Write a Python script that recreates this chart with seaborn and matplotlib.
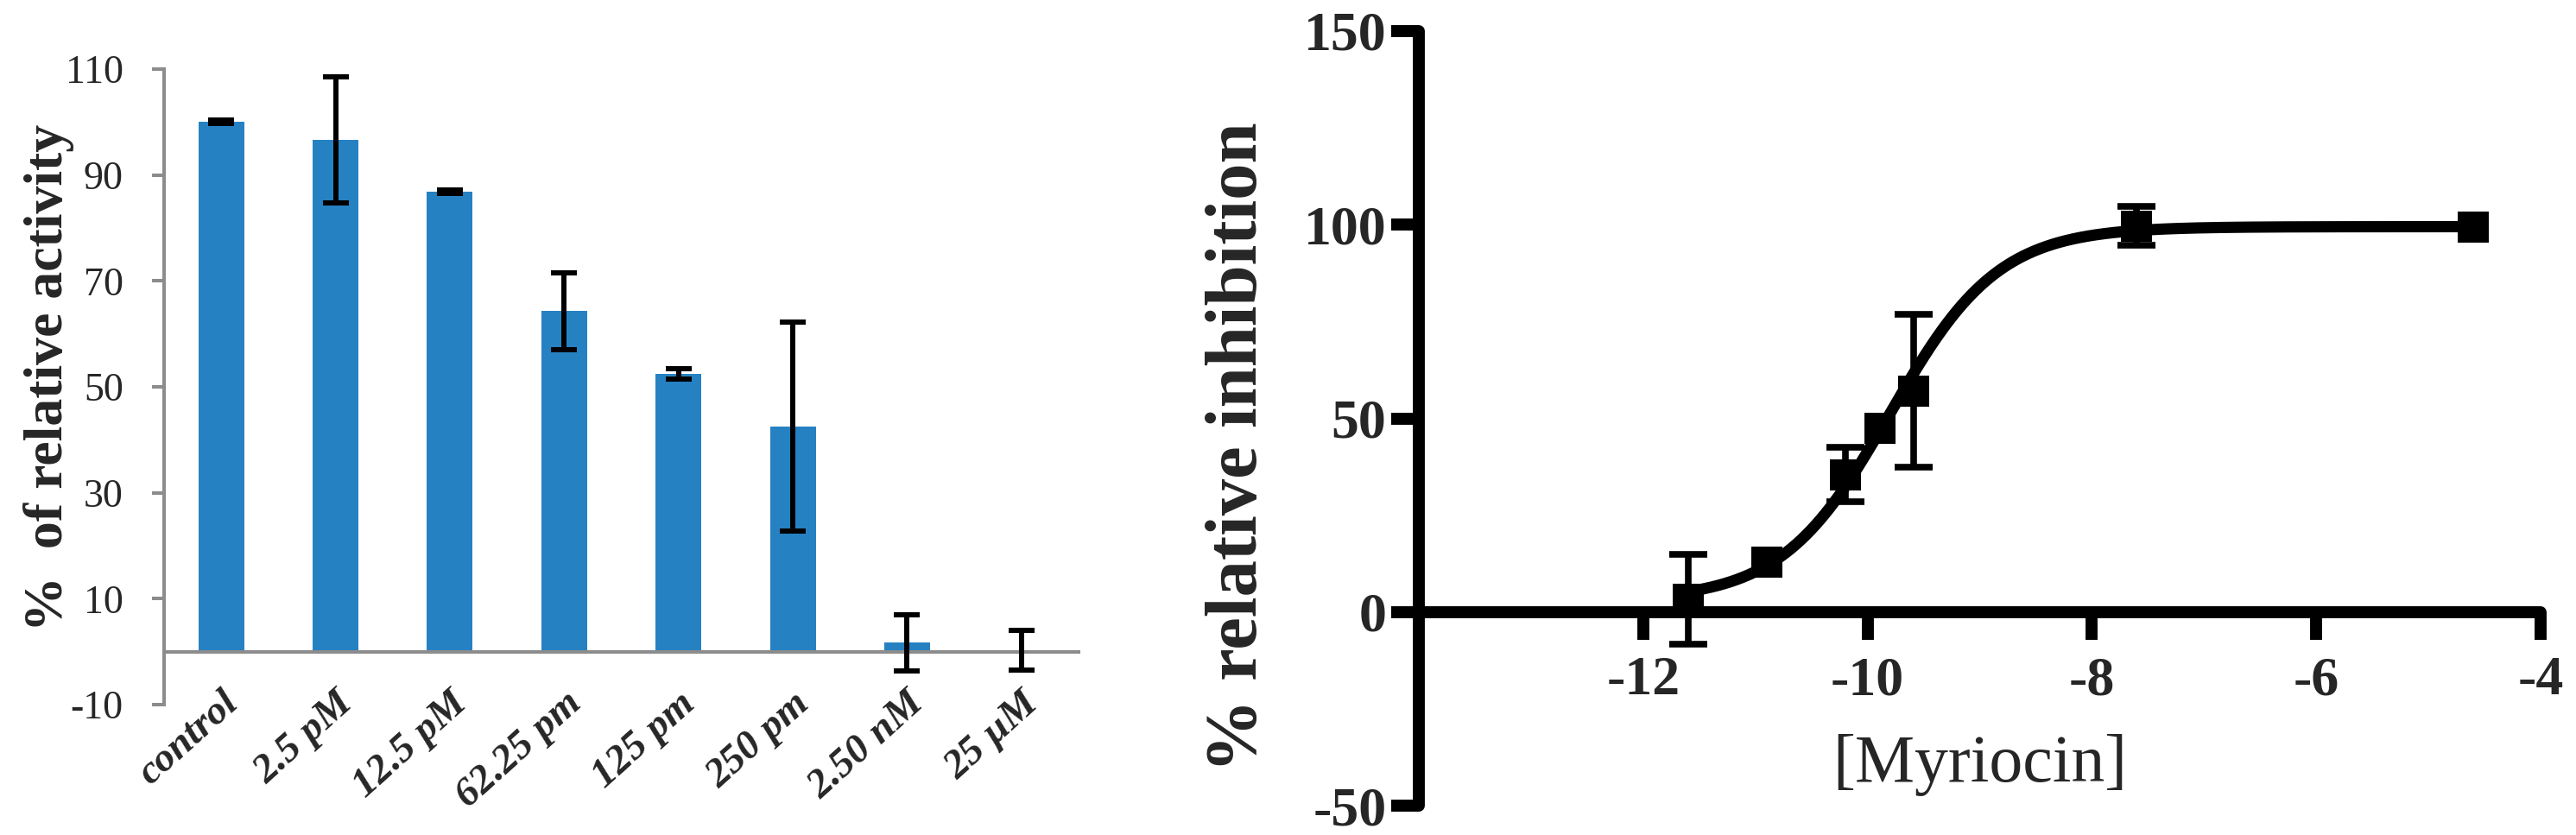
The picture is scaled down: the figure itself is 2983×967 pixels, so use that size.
import numpy as np
import pandas as pd
import matplotlib
matplotlib.use("Agg")
import matplotlib.pyplot as plt
import seaborn as sns

# ---------------- data ----------------
# Left panel: % of relative activity
categories = ["control", "2.5 pM", "12.5 pM", "62.25 pm", "125 pm", "250 pm", "2.50 nM", "25 \u00b5M"]
activity = [100.0, 96.7, 86.9, 64.3, 52.5, 42.5, 1.7, 0.35]
activity_err = [0.3, 11.9, 0.3, 7.3, 1.0, 19.8, 5.3, 3.75]
left_yticks = [-10, 10, 30, 50, 70, 90, 110]

# Right panel: dose response
log_conc = [-11.6, -10.9, -10.2, -9.89, -9.59, -7.6, -4.6]
inhibition = [3.2, 12.9, 35.5, 47.4, 57.1, 99.7, 99.4]
inhibition_err = [11.6, 0.0, 7.1, 0.0, 19.8, 5.0, 0.0]
# fitted 4-parameter logistic
fit_bottom = 3.0
fit_top = 99.5
fit_logic50 = -9.8
fit_hill = 0.9
right_xticks = [-12, -10, -8, -6, -4]
right_yticks = [-50, 0, 50, 100, 150]

# ---------------- style ----------------
sns.set_theme(style="white")
plt.rcParams["font.family"] = ["Liberation Serif", "DejaVu Serif"]

W, H = 2983, 967
fig = plt.figure(figsize=(W / 100, H / 100), dpi=100)
fig.patch.set_facecolor("white")

bar_color = "#2681C3"
gray = "#8C8C8C"

# ---------------- left panel ----------------
axL = fig.add_axes([190 / W, 1 - 816 / H, (1249 - 190) / W, (816 - 80) / H])
df_left = pd.DataFrame({"category": categories, "activity": activity})
sns.barplot(data=df_left, x="category", y="activity", color=bar_color,
            saturation=1, width=0.4, errorbar=None, ax=axL, linewidth=0)
axL.errorbar(np.arange(len(categories)), activity, yerr=activity_err,
             fmt="none", ecolor="black", elinewidth=4.3, capsize=11,
             capthick=4.3, zorder=4)
for s in ["top", "right"]:
    axL.spines[s].set_visible(False)
axL.spines["bottom"].set_position(("data", 0))
for s in ["bottom", "left"]:
    axL.spines[s].set_color(gray)
    axL.spines[s].set_linewidth(2.9)
axL.set_xlim(-0.5, len(categories) - 0.5)
axL.set_ylim(-10, 110)
axL.set_yticks(left_yticks)
axL.set_yticklabels([str(v) for v in left_yticks], fontsize=33)
axL.set_xticks(np.arange(len(categories)))
axL.set_xticklabels(categories, fontsize=34, fontweight="bold", fontstyle="italic",
                    rotation=42, ha="right", va="top", rotation_mode="anchor")
axL.set_xticks(np.arange(len(categories) + 1) - 0.5, minor=True)
axL.tick_params(axis="x", which="major", length=0, pad=28)
axL.tick_params(axis="x", which="minor", direction="out", length=8, width=2.9, color=gray)
axL.tick_params(axis="y", which="major", direction="out", length=10, width=2.9,
                color=gray, pad=24, left=True)
axL.set_xlabel("")
axL.set_ylabel("%  of relative activity", fontsize=46, fontweight="bold")
axL.yaxis.set_label_coords(-0.098, 0.515)
axL.grid(False)

# ---------------- right panel ----------------
axR = fig.add_axes([1643 / W, 1 - 933 / H, (2942 - 1643) / W, (933 - 36) / H])
xfit = np.linspace(log_conc[0], log_conc[-1], 500)
yfit = fit_bottom + (fit_top - fit_bottom) / (1 + 10 ** ((fit_logic50 - xfit) * fit_hill))
sns.lineplot(x=xfit, y=yfit, ax=axR, color="black", linewidth=9.4, zorder=3)

err_idx = [i for i, e in enumerate(inhibition_err) if e > 0]
axR.errorbar([log_conc[i] for i in err_idx], [inhibition[i] for i in err_idx],
             yerr=[inhibition_err[i] for i in err_idx], fmt="none", ecolor="black",
             elinewidth=5.5, capsize=15.5, capthick=5.5, zorder=4)
sns.scatterplot(x=log_conc, y=inhibition, ax=axR, marker="s", s=26 ** 2,
                color="black", linewidth=0, zorder=5)

for s in ["top", "right"]:
    axR.spines[s].set_visible(False)
axR.spines["bottom"].set_position(("data", 0))
for s in ["bottom", "left"]:
    axR.spines[s].set_color("black")
    axR.spines[s].set_linewidth(10)
    axR.spines[s].set_capstyle("round")
axR.set_xlim(-14, -4)
axR.set_ylim(-50, 150)
axR.set_xticks(right_xticks)
axR.set_xticklabels([str(v) for v in right_xticks], fontsize=46, fontweight="bold")
axR.set_yticks(right_yticks)
axR.set_yticklabels([str(v) for v in right_yticks], fontsize=46, fontweight="bold")
axR.tick_params(axis="both", direction="out", length=23, width=10, color="black")
axR.tick_params(axis="x", pad=14, bottom=True)
axR.tick_params(axis="y", pad=4, left=True)
axR.set_xlabel("[Myriocin]", fontsize=56)
axR.xaxis.set_label_coords(0.5, 0.092)
axR.set_ylabel("% relative inhibition", fontsize=61, fontweight="bold")
axR.yaxis.set_label_coords(-0.131, 0.463)
axR.grid(False)
for coll in axR.collections:
    coll.set_clip_on(False)
for ln in axR.lines:
    ln.set_clip_on(False)

fig.savefig("out.png", dpi=100, facecolor="white")
